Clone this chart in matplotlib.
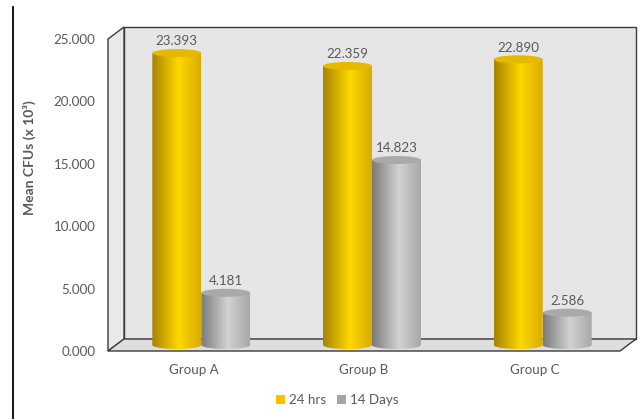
import numpy as np
import matplotlib
matplotlib.use("Agg")
import matplotlib.pyplot as plt
from matplotlib.patches import Ellipse, Polygon, PathPatch, Patch
from matplotlib.path import Path
from matplotlib.lines import Line2D
from matplotlib.colors import to_rgb

# ---- data ----
groups = ["Group A", "Group B", "Group C"]
series_names = ["24 hrs", "14 Days"]
hrs_24 = [23.393, 22.359, 22.890]
days_14 = [4.181, 14.823, 2.586]
y_ticks = [0, 5, 10, 15, 20, 25]

plt.rcParams["font.family"] = ["Lato", "DejaVu Sans"]
TXT = "#595959"
EDGE = "#3a3a3a"

W, H = 643, 419
fig = plt.figure(figsize=(W / 100, H / 100), dpi=100)
fig.patch.set_facecolor("white")
ax = fig.add_axes([108 / W, (H - 351) / H, 512 / W, (351 - 39) / H])
ax.set_xlim(-0.5, 2.5)
ax.set_ylim(0, 25)
ax.set_autoscale_on(False)

# depth of the 3-D box, in data units
xr = 3.0
yr = 25.0
dx = 16 / 512 * xr
dy = 12 / 312 * yr
x0, x1 = -0.5, 2.5

# walls and floor
back = Polygon([(x0 + dx, dy), (x1 + dx, dy), (x1 + dx, yr + dy), (x0 + dx, yr + dy)],
               closed=True, fc="#e6e6e6", ec=EDGE, lw=1.0, zorder=0, clip_on=False)
side = Polygon([(x0, 0), (x0 + dx, dy), (x0 + dx, yr + dy), (x0, yr)],
               closed=True, fc="#e9e9e9", ec=EDGE, lw=1.0, zorder=0.5, clip_on=False)
floor = Polygon([(x0, 0), (x0 + dx, dy), (x1 + dx, dy), (x1, 0)],
                closed=True, fc="#dedede", ec=EDGE, lw=1.0, zorder=0.6, clip_on=False)
for p in (back, side, floor):
    ax.add_patch(p)


def gradient(base_dark, base_mid, base_light, n=200):
    t = np.linspace(0, 1, n)
    stops = [0.0, 0.55, 1.0]
    cols = [to_rgb(base_dark), to_rgb(base_light), to_rgb(base_mid)]
    arr = np.zeros((1, n, 3))
    for k in range(3):
        arr[0, :, k] = np.interp(t, stops, [c[k] for c in cols])
    return arr


yellow_grad = gradient("#a88300", "#d9ab00", "#ffd800")
gray_grad = gradient("#7a7a7a", "#a8a8a8", "#d2d2d2")
yellow_top = "#e6b800"
gray_top = "#a9a9a9"

bw = 49 / 512 * xr
eh = 8 / 312 * yr  # ellipse height
mx, my = dx / 2, dy / 2


def cylinder(xc, value, grad, topc, z):
    xl, xrt = xc - bw / 2, xc + bw / 2
    yb, yt = my, value + my
    th = np.linspace(np.pi, 2 * np.pi, 60)
    arc = np.column_stack([xc + bw / 2 * np.cos(th), yb + eh / 2 * np.sin(th)])
    verts = np.vstack([[xl, yt], [xl, yb], arc, [xrt, yb], [xrt, yt], [xl, yt]])
    codes = [Path.MOVETO] + [Path.LINETO] * (len(verts) - 2) + [Path.CLOSEPOLY]
    clip = PathPatch(Path(verts, codes), transform=ax.transData, fc="none", ec="none")
    ax.add_patch(clip)
    im = ax.imshow(grad, extent=(xl, xrt, yb - eh / 2, yt), aspect="auto",
                   interpolation="bilinear", zorder=z)
    im.set_clip_path(clip)
    ax.add_patch(Ellipse((xc, yt), bw, eh, fc=topc, ec="none", zorder=z + 0.1))
    ax.annotate(f"{value:.3f}", (xc, yt), xytext=(0, 8.5), textcoords="offset points",
                ha="center", va="center", fontsize=9.6, color=TXT, zorder=z + 0.2)


for i, g in enumerate(groups):
    cylinder(i - bw / 2 + mx, hrs_24[i], yellow_grad, yellow_top, 2)
    cylinder(i + bw / 2 + mx, days_14[i], gray_grad, gray_top, 3)

ax.set_xlim(-0.5, 2.5)
ax.set_ylim(0, 25)

# axes text
for s in ax.spines.values():
    s.set_visible(False)
ax.set_xticks(range(len(groups)))
ax.set_xticklabels(groups)
ax.set_yticks(y_ticks)
ax.set_yticklabels([f"{v:.3f}" for v in y_ticks])
ax.tick_params(axis="both", length=0, colors=TXT, labelsize=9.6)
ax.tick_params(axis="y", pad=9)
ax.tick_params(axis="x", pad=9)

fig.text(29 / W, 1 - 158 / H, "Mean CFUs (x 10\u00b3)", rotation=90, ha="center",
         va="center", fontsize=10, fontweight="bold", color=TXT)

# legend
handles = [Patch(fc="#ffc000", ec="none"), Patch(fc="#a5a5a5", ec="none")]
fig.legend(handles, series_names, loc="center", bbox_to_anchor=(337 / W, 1 - 400 / H),
           ncol=2, frameon=False, fontsize=9.6, handlelength=0.7, handleheight=0.7,
           handletextpad=0.3, columnspacing=0.8, labelcolor=TXT)

# left border rule
fig.add_artist(Line2D([13 / W, 13 / W], [0, 1 - 7 / H], transform=fig.transFigure,
                      color="black", lw=1.3))

fig.savefig("out.png", dpi=100)
